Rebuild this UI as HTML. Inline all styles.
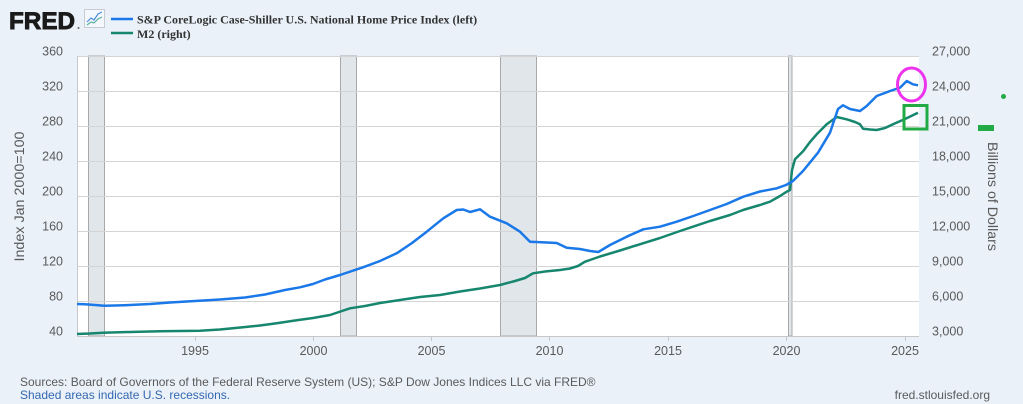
<!DOCTYPE html>
<html><head><meta charset="utf-8"><style>
html,body{margin:0;padding:0;background:#eaf1f9;}
svg{display:block;font-family:"Liberation Sans",Arial,sans-serif;}
</style></head><body>
<svg width="1023" height="404" viewBox="0 0 1023 404" xmlns="http://www.w3.org/2000/svg">
<rect x="0" y="0" width="1023" height="404" fill="#eaf1f9"/>
<!-- header -->
<text x="9" y="29" font-size="24" font-weight="bold" fill="#1a1a1a" stroke="#1a1a1a" stroke-width="0.9" textLength="66" lengthAdjust="spacingAndGlyphs">FRED</text>
<circle cx="78.5" cy="28" r="1" fill="#666"/>
<rect x="84.5" y="9.5" width="20" height="18" fill="#f4f7fb" stroke="#c8ccd2" stroke-width="1"/>
<polyline points="87,22 91,18 94,20 98,14 102,12" fill="none" stroke="#4a8fe0" stroke-width="1.2"/>
<polyline points="87,25 91,22 94,23 98,19 102,17" fill="none" stroke="#5bb0a0" stroke-width="1.2"/>
<line x1="111" y1="19" x2="133" y2="19" stroke="#1a78e8" stroke-width="2.5"/>
<line x1="111" y1="33" x2="133" y2="33" stroke="#17866e" stroke-width="2.5"/>
<text x="137" y="23.5" font-family="Liberation Serif,serif" font-size="12" font-weight="bold" fill="#333">S&amp;P CoreLogic Case-Shiller U.S. National Home Price Index (left)</text>
<text x="137" y="38" font-family="Liberation Serif,serif" font-size="12" font-weight="bold" fill="#333">M2 (right)</text>

<!-- plot bg -->
<rect x="77" y="56" width="842" height="280" fill="#ffffff"/>
<!-- recessions -->
<g fill="#e1e6eb" stroke="#a9a9a9" stroke-width="1">
<rect x="88.5" y="56" width="16" height="280"/>
<rect x="340.5" y="56" width="16" height="280"/>
<rect x="500.5" y="56" width="36" height="280"/>
<rect x="788.5" y="56" width="3.5" height="280"/>
</g>
<!-- grid -->
<g stroke="#d4d4d4" stroke-width="1">
<line x1="77" y1="56.5" x2="919" y2="56.5"/>
<line x1="77" y1="91.5" x2="919" y2="91.5"/>
<line x1="77" y1="126.5" x2="919" y2="126.5"/>
<line x1="77" y1="161.5" x2="919" y2="161.5"/>
<line x1="77" y1="196.5" x2="919" y2="196.5"/>
<line x1="77" y1="231.5" x2="919" y2="231.5"/>
<line x1="77" y1="266.5" x2="919" y2="266.5"/>
<line x1="77" y1="301.5" x2="919" y2="301.5"/>
</g>
<line x1="77" y1="336.5" x2="919" y2="336.5" stroke="#c8c8c8" stroke-width="1"/>
<line x1="77.5" y1="56" x2="77.5" y2="336" stroke="#c8c8c8" stroke-width="1"/>
<g stroke="#c8c8c8" stroke-width="1">
<line x1="195.5" y1="336" x2="195.5" y2="341"/>
<line x1="313.5" y1="336" x2="313.5" y2="341"/>
<line x1="431.5" y1="336" x2="431.5" y2="341"/>
<line x1="549.5" y1="336" x2="549.5" y2="341"/>
<line x1="668.5" y1="336" x2="668.5" y2="341"/>
<line x1="786.5" y1="336" x2="786.5" y2="341"/>
<line x1="905.5" y1="336" x2="905.5" y2="341"/>
</g>

<!-- series -->
<polyline fill="none" stroke="#17866e" stroke-width="2.5" stroke-linejoin="round" points="77,334 90,333.5 103,332.7 130,332 160,331.3 200,330.7 220,329.5 243,327.3 260,325.5 276.7,323.3 295,320.5 313,318 330,315 350,308.3 365,306 380,303 400,300 420,297 440,295 460,291.5 480,288.5 500,285 515,281 525,278 533,273.3 545,271.5 560,270 570,268.5 578,266 585,261.7 590,260 600,256.5 620,250.5 643,243.3 660,238 680,231 693,226.7 710,221 730,215 743,210 760,205 770,201.7 780,196 786.7,191.7 790,190 792,170 795,159.3 803.3,151 810,142 816.7,134.3 826.7,124.3 836.7,117 846.7,119.3 855,122 860,124.3 863,128.7 870,129.5 876.7,130 885,128 893,124.3 905,119 918,112.7"/>
<polyline fill="none" stroke="#1a78e8" stroke-width="2.5" stroke-linejoin="round" points="77,304 85,304.2 95,305 104,305.8 115,305.5 130,305 150,304 170,302.5 195,301 220,299.5 245,297.5 265,294.5 285,290 300,287.3 313,284 325,279.5 340,275 363,267.3 380,261 396.7,253.3 412,243 426.7,231.7 443.3,218.3 456.7,210 463.3,209.5 470,212 480,209.3 490,216.7 506.7,223.3 520,231.7 530,241.7 546.7,242.5 556.7,243 566.7,247.7 580,249 590,251 598.3,252 610,245 626.7,236.7 643.3,229.3 660,226.7 676.7,221.7 693.3,216 710,210 726.7,204 743.3,196.7 760,191.5 776.7,188.3 786,185 793,181 803,171 818,152.7 830,132.7 838,109 843,105.3 850,109 860,111 866.7,106 876.7,96 890,91 900,87.7 906.7,81 913,84.3 918,85.3"/>

<!-- annotations -->
<ellipse cx="911.5" cy="84.5" rx="14" ry="16.5" fill="none" stroke="#ee33ee" stroke-width="3"/>
<rect x="904" y="105.5" width="23" height="23.5" fill="none" stroke="#22aa44" stroke-width="3"/>
<circle cx="1003.5" cy="96.5" r="2.5" fill="#22aa44"/>
<rect x="978" y="125" width="16" height="6" fill="#22aa44"/>

<!-- left axis labels -->
<g font-size="12.5" fill="#595959" text-anchor="end">
<text x="63" y="55.5">360</text>
<text x="63" y="90.5">320</text>
<text x="63" y="125.5">280</text>
<text x="63" y="160.5">240</text>
<text x="63" y="195.5">200</text>
<text x="63" y="230.5">160</text>
<text x="63" y="265.5">120</text>
<text x="63" y="300.5">80</text>
<text x="63" y="335.5">40</text>
</g>
<text transform="translate(24,196.5) rotate(-90)" font-size="13.5" fill="#595959" text-anchor="middle" textLength="130" lengthAdjust="spacingAndGlyphs">Index Jan 2000=100</text>
<!-- right axis labels -->
<g font-size="12.5" fill="#595959" text-anchor="start">
<text x="932" y="55.5">27,000</text>
<text x="932" y="90.5">24,000</text>
<text x="932" y="125.5">21,000</text>
<text x="932" y="160.5">18,000</text>
<text x="932" y="195.5">15,000</text>
<text x="932" y="230.5">12,000</text>
<text x="932" y="265.5">9,000</text>
<text x="932" y="300.5">6,000</text>
<text x="932" y="335.5">3,000</text>
</g>
<text transform="translate(988,196.5) rotate(90)" font-size="13.5" fill="#595959" text-anchor="middle" textLength="109" lengthAdjust="spacingAndGlyphs">Billions of Dollars</text>
<!-- x axis labels -->
<g font-size="12.5" fill="#595959" text-anchor="middle">
<text x="195" y="355">1995</text>
<text x="313.5" y="355">2000</text>
<text x="431.5" y="355">2005</text>
<text x="549.5" y="355">2010</text>
<text x="668" y="355">2015</text>
<text x="786.5" y="355">2020</text>
<text x="905" y="355">2025</text>
</g>
<!-- footer -->
<text x="20" y="386" font-size="12" fill="#5a5a5a">Sources: Board of Governors of the Federal Reserve System (US); S&amp;P Dow Jones Indices LLC via FRED®</text>
<text x="20" y="399" font-size="12" fill="#3568b0">Shaded areas indicate U.S. recessions.</text>
<text x="990" y="399" font-size="12" fill="#5a5a5a" text-anchor="end">fred.stlouisfed.org</text>
</svg>
</body></html>
